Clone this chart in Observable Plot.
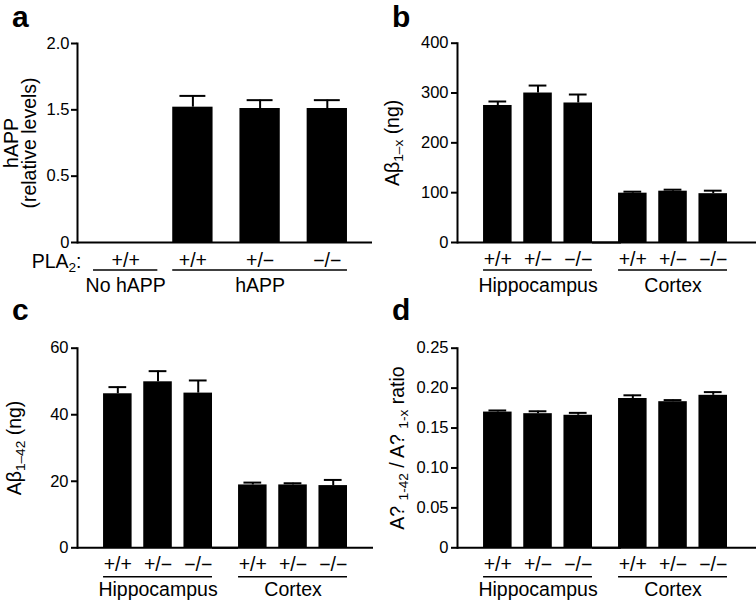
<!DOCTYPE html>
<html>
<head>
<meta charset="utf-8">
<script src="https://cdn.jsdelivr.net/npm/d3@7"></script>
<script src="https://cdn.jsdelivr.net/npm/@observablehq/plot@0.6"></script>
<style>
  body { margin: 0; background: #fff; }
  #fig { position: relative; width: 756px; height: 601px; overflow: hidden; background: #fff;
         font-family: "Liberation Sans", Arial, Helvetica, sans-serif; color: #000; }
  #fig svg { position: absolute; }
  .letter { position: absolute; font-weight: bold; font-size: 30px; line-height: 1.12; }
</style>
</head>
<body>
<div id="fig"></div>
<script>
// ---------- data ----------
const genotypes = ["+/+", "+/−", "−/−"];
const tissues = ["Hippocampus", "Cortex"];

// panel a
const aGroups = ["No hAPP", "hAPP", "hAPP", "hAPP"];
const aGenotypes = ["+/+", "+/+", "+/−", "−/−"];
const aValues = [0, 1.52, 1.51, 1.51];
const aErrors = [null, 0.085, 0.063, 0.063];
const aTicks = [0, 0.5, 1.5, 2.0];
const aTickLabels = ["0", "0.5", "1.5", "2.0"];
const aTitle = "hAPP\n(relative levels)";
const aPrefix = "PLA_{2}:";

// panel b
const bValues = [275, 300, 280, 99, 103, 98];
const bErrors = [8, 15, 17, 3, 3, 6];
const bTicks = [0, 100, 200, 300, 400];
const bTitle = "Aβ_{1–x} (ng)";

// panel c
const cValues = [46.3, 49.9, 46.5, 18.9, 18.9, 18.7];
const cErrors = [2.0, 3.2, 3.8, 0.7, 0.5, 1.7];
const cTicks = [0, 20, 40, 60];
const cTitle = "Aβ_{1–42} (ng)";

// panel d
const dValues = [0.170, 0.168, 0.166, 0.187, 0.183, 0.191];
const dErrors = [0.002, 0.003, 0.003, 0.004, 0.002, 0.004];
const dTicks = [0, 0.05, 0.10, 0.15, 0.20, 0.25];
const dTickLabels = ["0", "0.05", "0.10", "0.15", "0.20", "0.25"];
const dTitle = "A? _{1-42} / A? _{1-x} ratio";

const panelLetters = ["a", "b", "c", "d"];

// ---------- helpers ----------
const FONT = '"Liberation Sans", Arial, Helvetica, sans-serif';
const baseStyle = {fontFamily: FONT, fontSize: "16px", color: "black", background: "transparent", overflow: "visible"};
const LABEL = 19.5, TICK = 16.5, TITLE = 19.5;

function applySubscripts(root) {
  const NS = "http://www.w3.org/2000/svg";
  root.querySelectorAll("text").forEach(t => {
    const s = t.textContent;
    if (!s.includes("_{") || t.children.length) return;
    const holder = t.closest("[font-size]");
    const size = holder ? parseFloat(holder.getAttribute("font-size")) : 16;
    const shift = size * 0.24;
    t.textContent = "";
    let lowered = false;
    for (const part of s.split(/(_\{[^}]*\})/)) {
      if (!part) continue;
      const sp = document.createElementNS(NS, "tspan");
      const sub = part.startsWith("_{");
      sp.textContent = sub ? part.slice(2, -1) : part;
      if (sub) {
        sp.setAttribute("font-size", size * 0.7);
        if (!lowered) { sp.setAttribute("dy", shift); lowered = true; }
      } else if (lowered) {
        sp.setAttribute("dy", -shift); lowered = false;
      }
      t.appendChild(sp);
    }
  });
  return root;
}

const rows = (values, errors) => values.map((v, i) => ({
  tissue: tissues[Math.floor(i / genotypes.length)],
  genotype: genotypes[i % genotypes.length],
  value: v, err: errors[i]
}));

const txt = {textAnchor: "middle", lineAnchor: "middle", fill: "black"};

function facetPanel(data, o) {
  return Plot.plot({
    width: o.width, height: o.height,
    marginTop: o.mt, marginBottom: o.mb, marginLeft: o.ml, marginRight: o.mr,
    style: baseStyle,
    fx: {domain: tissues, paddingInner: 0, paddingOuter: 0, round: false, axis: null},
    x: {type: "band", domain: genotypes, paddingInner: 0.29, paddingOuter: 0.324, align: 1, round: false, axis: null},
    y: {domain: [o.ticks[0], o.ticks[o.ticks.length - 1]]},
    marks: [
      Plot.barY(data, {fx: "tissue", x: "genotype", y: "value", fill: "black"}),
      Plot.ruleX(data, {fx: "tissue", x: "genotype", y1: "value", y2: d => d.value + d.err, stroke: "black", strokeWidth: 2}),
      Plot.tickY(data, {fx: "tissue", x: "genotype", y: d => d.value + d.err, stroke: "black", strokeWidth: 2, inset: 5.4}),
      Plot.ruleY([0], {stroke: "black", strokeWidth: 2, insetRight: -o.baseExt}),
      Plot.frame({anchor: "left", stroke: "black", strokeWidth: 2, fx: tissues[0]}),
      Plot.axisY({ticks: o.ticks, tickFormat: o.tickFormat, tickSize: 6, tickPadding: 3, fontSize: TICK, strokeWidth: 2, label: null}),
      Plot.text(data, {...txt, fx: "tissue", x: "genotype", text: "genotype", frameAnchor: "bottom", dy: o.lab[0], fontSize: LABEL}),
      Plot.ruleY(tissues, {fx: d => d, x1: () => genotypes[0], x2: () => genotypes[genotypes.length - 1], y: () => 0, dy: o.lab[1], stroke: "black", strokeWidth: 1.5}),
      Plot.text(tissues, {...txt, fx: d => d, x: () => genotypes[1], text: d => d, frameAnchor: "bottom", dy: o.lab[2], fontSize: LABEL}),
      Plot.text([{tissue: tissues[0], label: o.title}], {...txt, fx: "tissue", text: "label", frameAnchor: "left", rotate: -90, dx: o.titleDx, fontSize: TITLE})
    ]
  });
}

// ---------- panel a ----------
const aData = aGroups.map((g, i) => ({key: g + " " + aGenotypes[i] + " " + i, group: g, genotype: aGenotypes[i], value: aValues[i], err: aErrors[i]}));
const aKeys = aData.map(d => d.key);
const aGroupNames = [...new Set(aGroups)];
const aGroupInfo = aGroupNames.map(g => {
  const ks = aData.filter(d => d.group === g).map(d => d.key);
  return {group: g, first: ks[0], last: ks[ks.length - 1], mid: ks[Math.floor(ks.length / 2)], single: ks.length === 1};
});
const A = {width: 378, height: 300, mt: 43, mb: 58, ml: 77, mr: 3};
const aBottom = A.height - A.mb;
const svgA = Plot.plot({
  width: A.width, height: A.height, marginTop: A.mt, marginBottom: A.mb, marginLeft: A.ml, marginRight: A.mr,
  style: baseStyle,
  x: {type: "band", domain: aKeys, paddingInner: 0.4, paddingOuter: 0.417, round: false, axis: null},
  y: {type: "linear", domain: aTicks, range: aTicks.map((_, i) => aBottom + (A.mt - aBottom) * i / (aTicks.length - 1))},
  marks: [
    Plot.barY(aData, {x: "key", y: "value", fill: "black"}),
    Plot.ruleX(aData.filter(d => d.err), {x: "key", y1: "value", y2: d => d.value + d.err, stroke: "black", strokeWidth: 2}),
    Plot.tickY(aData.filter(d => d.err), {x: "key", y: d => d.value + d.err, stroke: "black", strokeWidth: 2, inset: 7.2}),
    Plot.ruleY([0], {stroke: "black", strokeWidth: 2, insetRight: 3}),
    Plot.frame({anchor: "left", stroke: "black", strokeWidth: 2}),
    Plot.axisY({ticks: aTicks, tickFormat: d => aTickLabels[aTicks.indexOf(d)], tickSize: 6, tickPadding: 2, fontSize: TICK, strokeWidth: 2, label: null}),
    Plot.text(aData, {...txt, x: "key", text: "genotype", frameAnchor: "bottom", dy: 18, fontSize: LABEL}),
    Plot.text([aPrefix], {...txt, frameAnchor: "bottom-left", textAnchor: "end", dx: 4, dy: 19, fontSize: LABEL}),
    Plot.ruleY(aGroupInfo.filter(d => d.single), {x1: "first", x2: "last", y: () => 0, dy: 27.5, stroke: "black", strokeWidth: 1.5, inset: -12}),
    Plot.ruleY(aGroupInfo.filter(d => !d.single), {x1: "first", x2: "last", y: () => 0, dy: 27.5, stroke: "black", strokeWidth: 1.5}),
    Plot.text(aGroupInfo, {...txt, x: "mid", text: "group", frameAnchor: "bottom", dy: 43, fontSize: LABEL}),
    Plot.text([aTitle], {...txt, frameAnchor: "left", rotate: -90, dx: -56.5, fontSize: TITLE, lineHeight: 0.95})
  ]
});

const svgB = facetPanel(rows(bValues, bErrors), {
  width: 378, height: 300, mt: 42.7, mb: 58, ml: 79, mr: 29, baseExt: 29,
  ticks: bTicks, tickFormat: d => String(d), title: bTitle, titleDx: -65, lab: [17, 27.5, 43]
});
const svgC = facetPanel(rows(cValues, cErrors), {
  width: 378, height: 301, mt: 47.7, mb: 53.7, ml: 77, mr: 31, baseExt: 26,
  ticks: cTicks, tickFormat: d => String(d), title: cTitle, titleDx: -63, lab: [16.5, 29, 41.5]
});
const svgD = facetPanel(rows(dValues, dErrors), {
  width: 378, height: 301, mt: 47.7, mb: 53.7, ml: 79, mr: 29, baseExt: 29,
  ticks: dTicks, tickFormat: d => dTickLabels[dTicks.indexOf(d)], title: dTitle, titleDx: -60, lab: [16.5, 29, 41.5]
});

const fig = document.getElementById("fig");
const placements = [[svgA, 0, 0], [svgB, 378, 0], [svgC, 0, 300], [svgD, 378, 300]];
placements.forEach(([el, left, top], i) => {
  applySubscripts(el);
  el.style.left = left + "px";
  el.style.top = top + "px";
  fig.appendChild(el);
  const L = document.createElement("div");
  L.className = "letter";
  L.textContent = panelLetters[i];
  L.style.left = (left + (i % 2 ? 14 : 12)) + "px";
  L.style.top = (top + (i < 2 ? 0 : -7)) + "px";
  fig.appendChild(L);
});
</script>
</body>
</html>
